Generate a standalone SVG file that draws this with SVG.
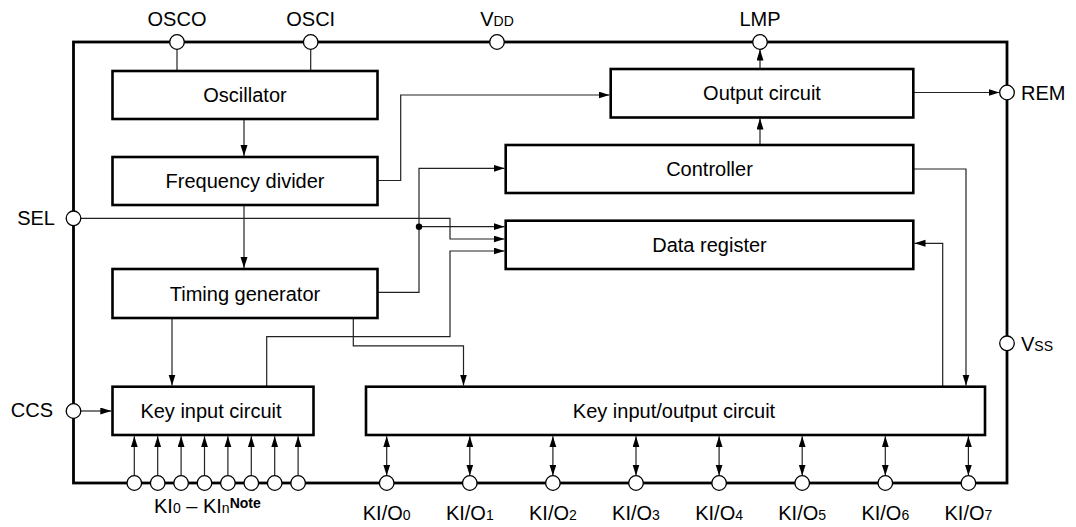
<svg xmlns="http://www.w3.org/2000/svg" width="1076" height="527" viewBox="0 0 1076 527">
<style>
text{font-family:"Liberation Sans",Arial,sans-serif;font-size:20px;fill:#000}
.box{fill:#fff;stroke:#000;stroke-width:2.6}
.frame{fill:none;stroke:#000;stroke-width:2.8}
.pin{fill:#fff;stroke:#000;stroke-width:1.3}
.c{fill:none;stroke:#222;stroke-width:1.2}
.a{marker-end:url(#ah)}
.b{marker-end:url(#ah);marker-start:url(#ah)}
.m{text-anchor:middle}
.sub{font-size:14px}
.note{font-size:14px;font-weight:bold}
</style>
<defs>
<marker id="ah" markerUnits="userSpaceOnUse" markerWidth="12" markerHeight="8" refX="11" refY="3.5" orient="auto-start-reverse">
<path d="M0,0 L11,3.5 L0,7 z" fill="#000"/>
</marker>
</defs>
<rect class="frame" x="73.5" y="42" width="933.5" height="441"/>
<g id="connectors">
<path class="c" d="M177,49.5 V71"/>
<path class="c" d="M310.7,49.5 V71"/>
<path class="c a" d="M244,119 V156"/>
<path class="c a" d="M244,205 V268"/>
<path class="c a" d="M377.5,180.5 H400.7 V95 H609.5"/>
<path class="c a" d="M760,145 V118.5"/>
<path class="c a" d="M760,69 V49.5"/>
<path class="c a" d="M913.5,92.5 H999.5"/>
<path class="c a" d="M377.5,292.3 H419 V168.3 H504.5"/>
<path class="c a" d="M419,226.7 H504.5"/>
<path class="c a" d="M80.5,218.3 H450 V239 H504.5"/>
<path class="c a" d="M266.7,386.7 V336.7 H450 V251 H504.5"/>
<path class="c a" d="M353.3,318.5 V345.8 H463.5 V385.5"/>
<path class="c a" d="M172,318.5 V385.5"/>
<path class="c a" d="M913.5,169 H966 V385.5"/>
<path class="c a" d="M942.7,386.7 V243.3 H914.5"/>
<path class="c a" d="M80.5,411 H111.3"/>
<path class="c a" d="M134.3,475.5 V436.3"/>
<path class="c a" d="M157.7,475.5 V436.3"/>
<path class="c a" d="M181.1,475.5 V436.3"/>
<path class="c a" d="M204.5,475.5 V436.3"/>
<path class="c a" d="M227.9,475.5 V436.3"/>
<path class="c a" d="M251.3,475.5 V436.3"/>
<path class="c a" d="M274.7,475.5 V436.3"/>
<path class="c a" d="M298.1,475.5 V436.3"/>
<path class="c b" d="M386.7,436.3 V475.5"/>
<path class="c b" d="M469.8,436.3 V475.5"/>
<path class="c b" d="M552.9,436.3 V475.5"/>
<path class="c b" d="M636,436.3 V475.5"/>
<path class="c b" d="M719.1,436.3 V475.5"/>
<path class="c b" d="M802.2,436.3 V475.5"/>
<path class="c b" d="M885.3,436.3 V475.5"/>
<path class="c b" d="M968.4,436.3 V475.5"/>
<circle cx="419" cy="226.7" r="3.2" fill="#000"/>
</g>
<g id="oscillator"><rect class="box" x="112.5" y="71" width="265" height="48"/><text class="m" x="245" y="102">Oscillator</text></g>
<g id="freqdiv"><rect class="box" x="112.5" y="157" width="265" height="48"/><text class="m" x="245" y="188">Frequency divider</text></g>
<g id="timing"><rect class="box" x="112.5" y="269" width="265" height="49"/><text class="m" x="245" y="300.5">Timing generator</text></g>
<g id="keyin"><rect class="box" x="112.5" y="386.7" width="201" height="48.3"/><text class="m" x="211" y="418">Key input circuit</text></g>
<g id="output"><rect class="box" x="610.7" y="69" width="302.6" height="48.5"/><text class="m" x="762" y="100">Output circuit</text></g>
<g id="controller"><rect class="box" x="505.7" y="145" width="407.6" height="48"/><text class="m" x="709.5" y="176">Controller</text></g>
<g id="datareg"><rect class="box" x="505.7" y="220.7" width="407.6" height="48.3"/><text class="m" x="709.5" y="252">Data register</text></g>
<g id="keyio"><rect class="box" x="366" y="386.7" width="619" height="48.3"/><text class="m" x="674" y="418">Key input/output circuit</text></g>
<g id="pins">
<circle class="pin" cx="177" cy="42" r="7.3"/>
<circle class="pin" cx="310.7" cy="42" r="7.3"/>
<circle class="pin" cx="497" cy="42" r="7.3"/>
<circle class="pin" cx="760" cy="42" r="7.3"/>
<circle class="pin" cx="1007" cy="92.5" r="7.3"/>
<circle class="pin" cx="1007" cy="343.3" r="7.3"/>
<circle class="pin" cx="73.5" cy="218.3" r="7.3"/>
<circle class="pin" cx="73.5" cy="411" r="7.3"/>
<circle class="pin" cx="134.3" cy="483" r="7.3"/>
<circle class="pin" cx="157.7" cy="483" r="7.3"/>
<circle class="pin" cx="181.1" cy="483" r="7.3"/>
<circle class="pin" cx="204.5" cy="483" r="7.3"/>
<circle class="pin" cx="227.9" cy="483" r="7.3"/>
<circle class="pin" cx="251.3" cy="483" r="7.3"/>
<circle class="pin" cx="274.7" cy="483" r="7.3"/>
<circle class="pin" cx="298.1" cy="483" r="7.3"/>
<circle class="pin" cx="386.7" cy="483" r="7.3"/>
<circle class="pin" cx="469.8" cy="483" r="7.3"/>
<circle class="pin" cx="552.9" cy="483" r="7.3"/>
<circle class="pin" cx="636" cy="483" r="7.3"/>
<circle class="pin" cx="719.1" cy="483" r="7.3"/>
<circle class="pin" cx="802.2" cy="483" r="7.3"/>
<circle class="pin" cx="885.3" cy="483" r="7.3"/>
<circle class="pin" cx="968.4" cy="483" r="7.3"/>
</g>
<g id="labels">
<text class="m" x="177" y="26">OSCO</text>
<text class="m" x="310.7" y="26">OSCI</text>
<text class="m" x="497" y="26">V<tspan class="sub">DD</tspan></text>
<text class="m" x="760" y="26">LMP</text>
<text x="1021" y="99.5">REM</text>
<text x="1021" y="351">V<tspan class="sub">SS</tspan></text>
<text x="55" y="225" text-anchor="end">SEL</text>
<text x="53" y="417" text-anchor="end">CCS</text>
<text x="154" y="513">KI<tspan class="sub">0</tspan> – KI<tspan class="sub">n</tspan><tspan class="note" dy="-5">Note</tspan></text>
<text class="m" x="386.7" y="520">KI/O<tspan class="sub">0</tspan></text>
<text class="m" x="469.8" y="520">KI/O<tspan class="sub">1</tspan></text>
<text class="m" x="552.9" y="520">KI/O<tspan class="sub">2</tspan></text>
<text class="m" x="636" y="520">KI/O<tspan class="sub">3</tspan></text>
<text class="m" x="719.1" y="520">KI/O<tspan class="sub">4</tspan></text>
<text class="m" x="802.2" y="520">KI/O<tspan class="sub">5</tspan></text>
<text class="m" x="885.3" y="520">KI/O<tspan class="sub">6</tspan></text>
<text class="m" x="968.4" y="520">KI/O<tspan class="sub">7</tspan></text>
</g>
</svg>
